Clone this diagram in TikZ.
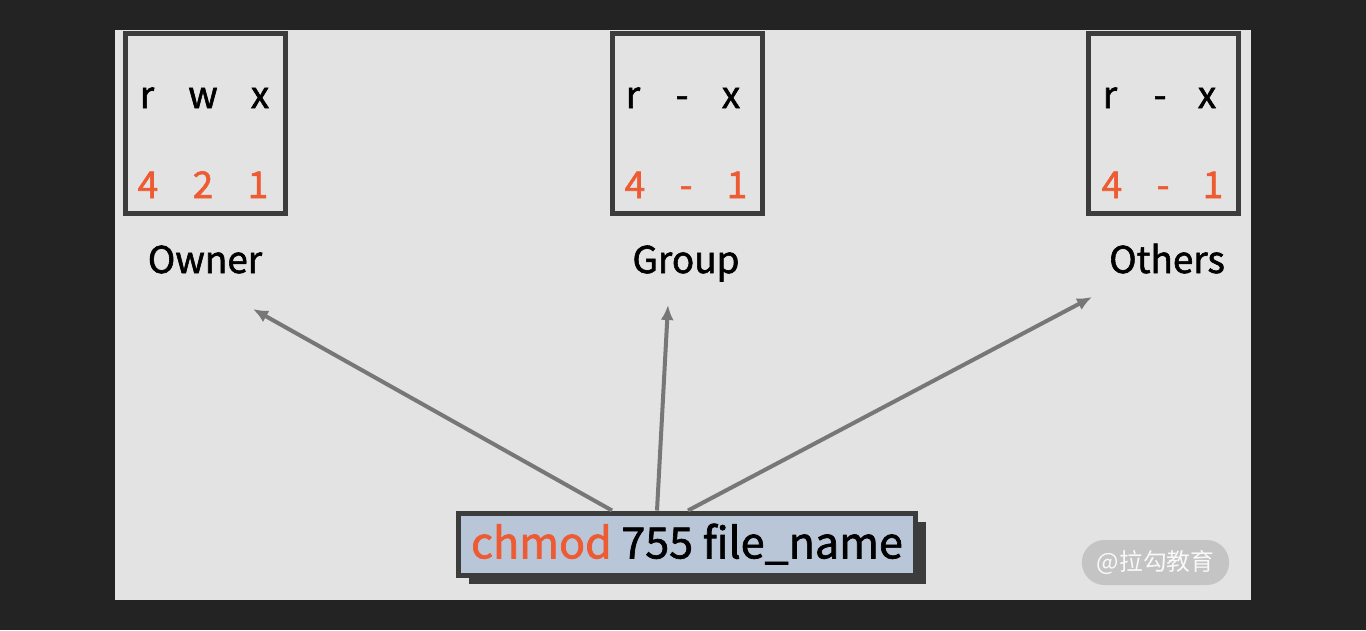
\documentclass[tikz,border=0pt]{standalone}
\usepackage{fontspec}
\setmainfont{Noto Sans CJK SC}[FakeBold=1.6]
\newfontfamily\logofont{Noto Sans CJK SC}
\usepackage{tikz}
\usetikzlibrary{arrows.meta, shadows, shapes.misc}
\definecolor{bgdark}{RGB}{35,35,35}
\definecolor{panel}{RGB}{227,227,227}
\definecolor{boxline}{RGB}{60,60,60}
\definecolor{permorange}{RGB}{238,91,50}
\definecolor{cmdfill}{RGB}{185,198,216}
\definecolor{arrowgray}{RGB}{119,119,119}
\definecolor{markgray}{RGB}{196,196,196}

\begin{document}
\begin{tikzpicture}[x=0.02cm, y=-0.02cm,
  permbox/.style={rectangle, draw=boxline, line width=0.1cm, minimum height=3.62cm,
                  inner sep=0pt},
  bit/.style={font=\fontsize{21}{25}\selectfont, text=black, inner sep=0pt, anchor=base},
  num/.style={font=\fontsize{21}{25}\selectfont, text=permorange, inner sep=0pt, anchor=base},
  who/.style={font=\fontsize{21}{25}\selectfont, text=black, inner sep=0pt, anchor=base},
  cmd/.style={rectangle, draw=boxline, line width=0.1cm, fill=cmdfill,
              minimum width=9.16cm, minimum height=1.24cm, inner sep=0pt,
              font=\fontsize{24.5}{29}\selectfont,
              drop shadow={shadow xshift=0.21cm, shadow yshift=-0.17cm, fill=boxline, opacity=1}},
  logotag/.style={rounded rectangle, fill=markgray, minimum width=3.18cm, minimum height=0.9cm,
               text=white!95!gray, font=\logofont\fontsize{13.5}{16}\selectfont},
  arrow/.style={-{Latex[length=0.3cm,width=0.26cm]}, draw=arrowgray, line width=0.08cm}]

\useasboundingbox (0,0) rectangle (1366,630);
\fill[bgdark] (0,0) rectangle (1366,630);
\fill[panel] (115,30) rectangle (1251,600);

% permission boxes
\node[permbox, minimum width=3.22cm] (ownerbox)  at (205.5,123.5) {};
\node[permbox, minimum width=3.02cm] (groupbox)  at (687.5,123.5) {};
\node[permbox, minimum width=3.02cm] (othersbox) at (1163.5,123.5) {};

\foreach \t/\x [count=\i] in {r/147, w/203, x/260}
  \node[bit] (owner-b\i) at (\x,108) {\t};
\foreach \t/\x [count=\i] in {4/148, 2/203, 1/258}
  \node[num] (owner-n\i) at (\x,198) {\t};

\foreach \t/\x [count=\i] in {r/633, -/682, x/731}
  \node[bit] (group-b\i) at (\x,108) {\t};
\foreach \t/\x [count=\i] in {4/635, -/686, 1/737}
  \node[num] (group-n\i) at (\x,198) {\t};

\foreach \t/\x [count=\i] in {r/1110, -/1160, x/1207}
  \node[bit] (others-b\i) at (\x,108) {\t};
\foreach \t/\x [count=\i] in {4/1112, -/1163, 1/1213}
  \node[num] (others-n\i) at (\x,198) {\t};

\node[who] (owner)  at (205,273)  {Owner};
\node[who] (group)  at (686,273)  {Group};
\node[who] (others) at (1167,273) {Others};

% command
\node[cmd] (chmod) at (687,544) {\textcolor{permorange}{chmod} 755 file\_name};

\coordinate (ownertip)  at (253,309);
\coordinate (grouptip)  at (668,305);
\coordinate (otherstip) at (1092,297);

\draw[arrow] ([xshift=-1.5cm]chmod.north) -- (ownertip);
\draw[arrow] ([xshift=-0.6cm]chmod.north) -- (grouptip);
\draw[arrow] ([xshift=0.02cm]chmod.north) -- (otherstip);

\node[logotag] (logo) at (1155.5,562.5) {@拉勾教育};
\end{tikzpicture}
\end{document}
